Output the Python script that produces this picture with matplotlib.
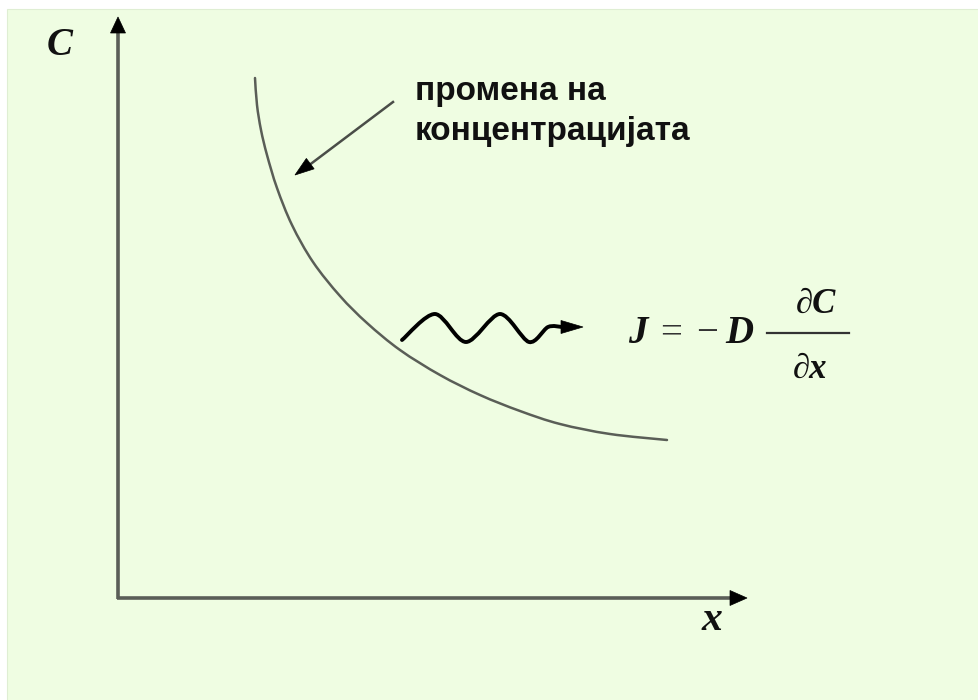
import numpy as np
import matplotlib.pyplot as plt
from matplotlib.patches import Rectangle, Polygon, PathPatch
from matplotlib.path import Path

# concentration profile C(x), in canvas pixels (y grows downward)
curve_x = [255, 257, 261, 267, 277, 292, 313, 340, 367, 400, 440, 480, 520, 560, 610, 667]
curve_y = [78, 105, 130, 155, 188, 225, 262, 296, 323, 350, 375, 395, 411, 424, 434, 440]

# wavy flux arrow (start, crests, troughs, tail)
wave_x = [402, 435, 466, 500, 529, 548, 562]
wave_y = [340, 314, 342, 314, 342, 327, 327]

label_lines = ["промена на", "концентрацијата"]

BG = "#effde2"
LINE = "#5a5e57"
INK = "#111111"


def smooth_path(xs, ys, tension=1.0):
    # Catmull-Rom through the given points, written as cubic Bezier segments
    p = np.column_stack([xs, ys]).astype(float)
    ext = np.vstack([p[0], p, p[-1]])
    verts = [p[0]]
    codes = [Path.MOVETO]
    for i in range(1, len(ext) - 2):
        p0, p1, p2, p3 = ext[i - 1], ext[i], ext[i + 1], ext[i + 2]
        c1 = p1 + (p2 - p0) * tension / 6
        c2 = p2 - (p3 - p1) * tension / 6
        verts += [c1, c2, p2]
        codes += [Path.CURVE4] * 3
    return Path(verts, codes)


def head(ax, tip, direction, length, width, color="black"):
    d = np.asarray(direction, float)
    d = d / np.hypot(*d)
    n = np.array([-d[1], d[0]])
    tip = np.asarray(tip, float)
    base = tip - d * length
    pts = [tip, base + n * width / 2, base - n * width / 2]
    ax.add_patch(Polygon(pts, closed=True, facecolor=color, edgecolor=color, lw=0.5, zorder=5))


fig = plt.figure(figsize=(9.79, 7), dpi=100)
ax = fig.add_axes([0, 0, 1, 1])
ax.set_xlim(0, 979)
ax.set_ylim(700, 0)
ax.axis("off")

ax.add_patch(Rectangle((7, 9), 980, 700, facecolor=BG, edgecolor="#dfeed3", lw=0.8, zorder=0))

# axes
ax.plot([118, 118], [599, 30], color=LINE, lw=2.6, solid_capstyle="butt", zorder=3)
ax.plot([117, 733], [598, 598], color=LINE, lw=2.6, solid_capstyle="butt", zorder=3)
head(ax, (118, 17), (0, -1), 16, 15)
head(ax, (747, 598), (1, 0), 17, 15)

ax.text(60, 55, "C", family="Liberation Serif", style="italic", weight="bold",
        fontsize=28, color=INK, ha="center", va="baseline")
ax.text(712, 630, "x", family="Liberation Serif", style="italic", weight="bold",
        fontsize=30, color=INK, ha="center", va="baseline")

# profile
ax.add_patch(PathPatch(smooth_path(curve_x, curve_y), facecolor="none",
                       edgecolor=LINE, lw=1.8, capstyle="round", zorder=3))

# label with arrow pointing to the curve
ax.text(415, 100, label_lines[0], family="Liberation Sans", weight="bold",
        fontsize=24, color=INK, ha="left", va="baseline")
ax.text(415, 140, label_lines[1], family="Liberation Sans", weight="bold",
        fontsize=24, color=INK, ha="left", va="baseline")
ax.plot([393, 308], [102, 166], color="#4a4d48", lw=1.8, zorder=3)
head(ax, (295, 175), (295 - 393, 175 - 102), 19, 13)

# flux arrow
ax.add_patch(PathPatch(smooth_path(wave_x, wave_y, tension=0.9), facecolor="none",
                       edgecolor="black", lw=2.8, capstyle="round", joinstyle="round", zorder=4))
head(ax, (583, 327), (1, 0), 22, 13)

# Fick's first law
serif_bi = dict(family="Liberation Serif", style="italic", weight="bold", color=INK)
serif = dict(family="Liberation Serif", color="#333333")
ax.text(638, 343, "J", fontsize=28, ha="center", va="baseline", **serif_bi)
ax.text(671, 343, "=", fontsize=28, ha="center", va="baseline", **serif)
ax.text(707, 343, "\u2212", fontsize=28, ha="center", va="baseline", **serif)
ax.text(739, 343, "D", fontsize=28, ha="center", va="baseline", **serif_bi)
ax.plot([767, 849], [333, 333], color="#333333", lw=1.6, zorder=3)
ax.text(816, 313, "\u2202C", fontsize=25, ha="center", va="baseline", **serif_bi)
ax.text(810, 378, "\u2202x", fontsize=25, ha="center", va="baseline", **serif_bi)

fig.savefig("out.png", dpi=100, facecolor="white")
